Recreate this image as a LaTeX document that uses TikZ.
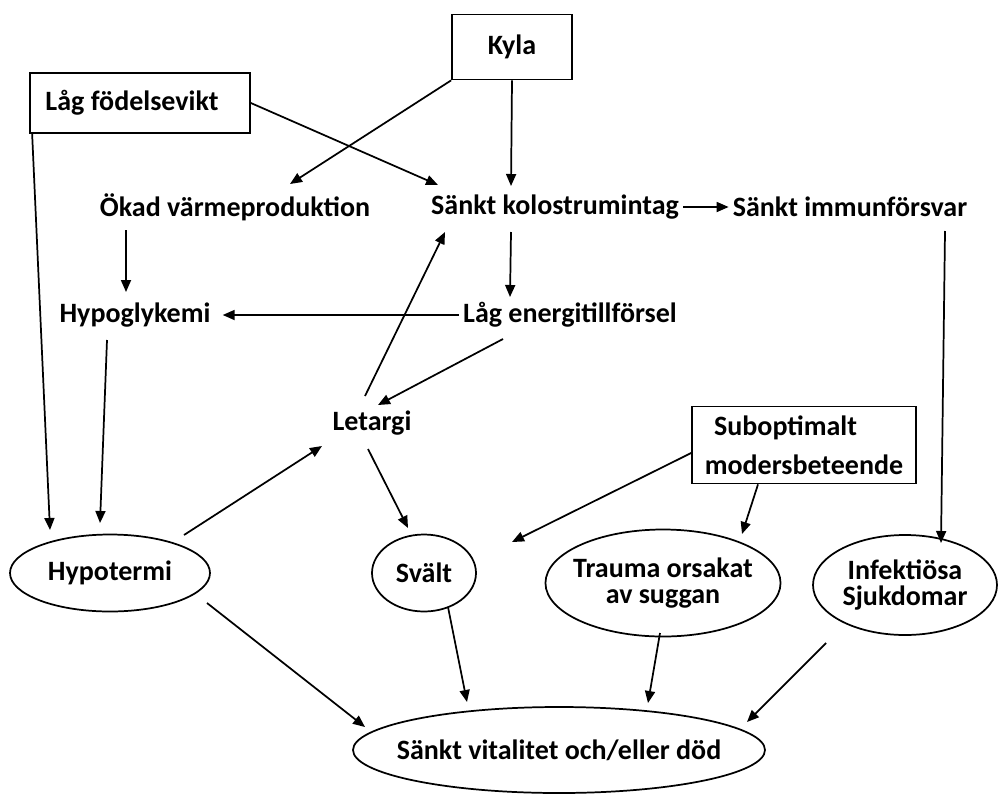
\documentclass[tikz,border=0pt]{standalone}
\usepackage{fontspec}
\setmainfont{Carlito}
\usetikzlibrary{arrows.meta,shapes.geometric,positioning}
\newdimen\px \px=0.75pt
\tikzset{
	every node/.style={font=\bfseries\fontsize{21}{20}\selectfont},
	cause/.style={
		rectangle,
		draw=black, line width=1.3pt,
		inner sep=0pt,
	},
	effect/.style={
		ellipse,
		draw=black, line width=1.3pt,
		inner sep=0pt,
		align=center,
	},
	lbl/.style={inner sep=3pt},
	arr/.style={line width=1.3pt, -{Triangle[length=9pt,width=7.5pt]}},
}

\begin{document}
\begin{tikzpicture}[x=0.75pt,y=-0.75pt]
\useasboundingbox (0,0) rectangle (998,796);
\node	(kyla)		[cause, minimum width=120\px, minimum height=65\px]	at (512,47)	{Kyla};
\node	(lagvikt)	[cause, minimum width=220\px, minimum height=60\px]	at (140,103)	{Låg födelsevikt\hspace*{12pt}};
\node	(okad)		[lbl]	at (235,207)	{Ökad värmeproduktion};
\node	(kolo)		[lbl]	at (555,207)	{Sänkt kolostrumintag};
\node	(immun)		[lbl]	at (850,207)	{Sänkt immunförsvar};
\node	(hypogly)	[lbl]	at (135,315)	{Hypoglykemi};
\node	(lagenergi)	[lbl]	at (570,315)	{Låg energitillförsel};
\node	(letargi)	[lbl]	at (372,423)	{Letargi};
\node	(subopt)	[cause, minimum width=224\px, minimum height=77\px, align=left]	at (804,445)	{\hspace*{7pt}Suboptimalt\\[9pt]modersbeteende};
\node	(hypotermi)	[effect, minimum width=200\px, minimum height=77\px]	at (110,573)	{Hypotermi};
\node	(svalt)		[effect, minimum width=104\px, minimum height=77\px]	at (424,573)	{Svält};
\node	(trauma)	[effect, inner xsep=-5pt, minimum width=229\px, minimum height=107\px]	at (663,583)	{Trauma orsakat\\av suggan};
\node	(infekt)	[effect, minimum width=184\px, minimum height=100\px]	at (905,585)	{Infektiösa\\Sjukdomar};
\node	(dod)		[effect, inner xsep=-13pt, minimum width=412\px, minimum height=86\px]	at (559,750)	{Sänkt vitalitet och/eller död};

\path[arr] (kyla.south west) edge ([shift={(55,-23)}]okad.center);
\path[arr] (kyla.south) edge ([shift={(-44,-21)}]kolo.center);
\path[arr] (lagvikt.east) edge ([shift={(-117,-22)}]kolo.center);
\path[arr] ([xshift=3\px]lagvikt.south west) edge ([shift={(-60,-43)}]hypotermi.center);
\path[arr] ([shift={(-109,23)}]okad.center) edge ([shift={(-9,-23)}]hypogly.center);
\path[arr] (kolo.east) edge (immun.west);
\path[arr] ([shift={(-44,25)}]kolo.center) edge ([shift={(-60,-18)}]lagenergi.center);
\path[arr] (lagenergi.west) edge ([xshift=8\px]hypogly.east);
\path[arr] ([shift={(-67,24)}]lagenergi.center) edge ([shift={(6,-18)}]letargi.center);
\path[arr] ([shift={(-7,-27)}]letargi.center) edge ([shift={(-110,25)}]kolo.center);
\path[arr] ([shift={(-28,25)}]hypogly.center) edge ([shift={(-10,-50)}]hypotermi.center);
\path[arr] ([shift={(74,-38)}]hypotermi.center) edge ([shift={(-50,23)}]letargi.center);
\path[arr] ([shift={(-4,26)}]letargi.center) edge ([shift={(-16,-45)}]svalt.center);
\path[arr] ([shift={(0,8)}]subopt.west) edge ([shift={(88,-31)}]svalt.center);
\path[arr] ([shift={(-46,0)}]subopt.south) edge ([shift={(79,-49)}]trauma.center);
\path[arr] ([shift={(95,24)}]immun.center) edge ([shift={(36,-42)}]infekt.center);
\path[arr] ([shift={(97,30)}]hypotermi.center) edge ([shift={(-194,-23)}]dod.center);
\path[arr] ([shift={(24,34)}]svalt.center) edge ([shift={(-92,-48)}]dod.center);
\path[arr] ([shift={(-3,50)}]trauma.center) edge ([shift={(89,-47)}]dod.center);
\path[arr] ([shift={(-79,58)}]infekt.center) edge ([shift={(188,-28)}]dod.center);

\end{tikzpicture}
\end{document}
